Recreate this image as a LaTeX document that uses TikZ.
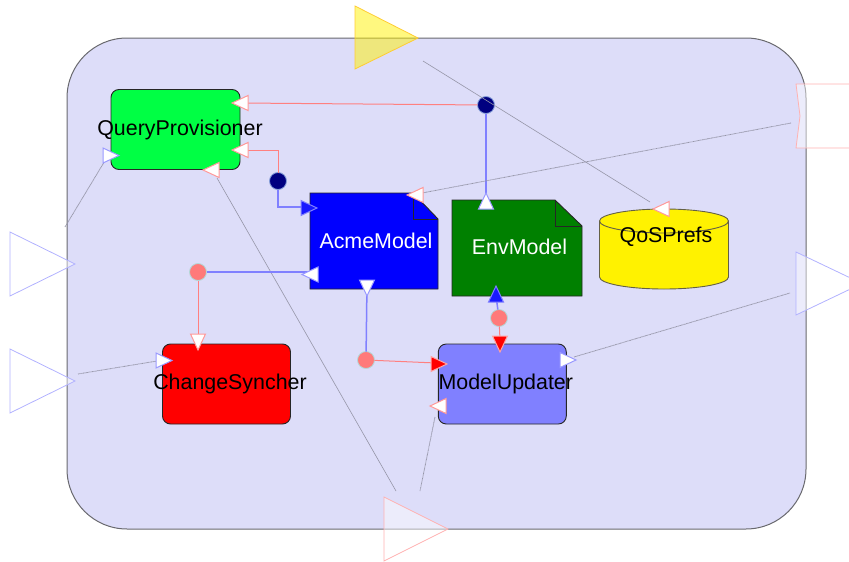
\documentclass[tikz,border=0pt]{standalone}
\usepackage{fontspec}
\setmainfont{Liberation Sans}
\definecolor{sysfill}{RGB}{221,221,249}
\definecolor{sysline}{RGB}{105,105,110}
\definecolor{qpgreen}{RGB}{0,255,68}
\definecolor{envgreen}{RGB}{0,128,0}
\definecolor{mupurple}{RGB}{128,128,255}
\definecolor{pinkln}{RGB}{255,128,128}
\definecolor{blueln}{RGB}{128,128,255}
\definecolor{greyln}{RGB}{150,150,168}
\definecolor{navy}{RGB}{0,0,128}
\definecolor{dotpink}{RGB}{255,122,122}
% small port markers: tip at the given point, rotated to the given direction
\newcommand{\portmark}[3]{\path[#3,shift={#1},rotate=#2] (0,0) -- (-16,-7.5) -- (-16,7.5) -- cycle;}
\begin{document}
\begin{tikzpicture}[x=1pt,y=-1pt,
  every node/.style={font=\fontsize{21.4}{24}\selectfont, inner sep=0pt, outer sep=0pt},
  comp/.style={draw=black!85, line width=0.9pt, rounded corners=8pt, minimum width=#1, minimum height=80},
  doc/.style={draw=black!85, line width=0.9pt},
  pinkconn/.style={draw=pinkln, line width=1pt},
  blueconn/.style={draw=blueln, line width=1.5pt},
  greyconn/.style={draw=greyln, line width=0.6pt},
  dotconn/.style={draw=greyln, line width=0.8pt, dash pattern=on 0.8pt off 0.5pt},
  navydot/.style={circle, fill=navy, draw=cyan!40!blue!50, line width=0.8pt, minimum size=17},
  pinkdot/.style={circle, fill=dotpink, draw=teal!30, line width=0.8pt, minimum size=17},
  mkpink/.style={draw=pinkln!80, fill=white, line width=1pt},
  mkblue/.style={draw=blueln!80, fill=white, line width=1pt},
  mkbluefill/.style={draw=blueln, fill=blue!90, line width=1pt},
  mkredfill/.style={draw=pinkln!70, fill=red, line width=1pt},
  portblue/.style={draw=blue!30, fill=white, fill opacity=0.45, line width=0.8pt},
  portpink/.style={draw=red!30, fill=white, fill opacity=0.45, line width=0.8pt}]
\useasboundingbox (0,0) rectangle (849,562);

% system boundary
\node[draw=sysline, fill=sysfill, line width=1pt, rounded corners=60pt,
      minimum width=739, minimum height=491] (sys) at (436.5,283.5) {};

% components
\node[comp=129, fill=qpgreen] (qp) at (175.5,129.5) {\makebox[0pt]{\hspace*{9pt}QueryProvisioner}};
\node[comp=128, fill=red] (cs) at (226.5,384) {\makebox[0pt]{\hspace*{7pt}ChangeSyncher}};
\node[comp=128, fill=mupurple] (mu) at (502.3,384) {\makebox[0pt]{\hspace*{7pt}ModelUpdater}};

% document shaped models
\path[doc, fill=blue] (310,193) -- (413,193) -- (438,219) -- (438,289) -- (310,289) -- cycle;
\draw[doc] (413,193) -- (413,219) -- (438,219);
\node[text=white, minimum width=128, minimum height=96] (acme) at (376,241) {AcmeModel};
\path[doc, fill=envgreen] (452,200) -- (555,200) -- (582,226) -- (582,296) -- (452,296) -- cycle;
\draw[doc] (555,200) -- (555,226) -- (582,226);
\node[text=white, minimum width=130, minimum height=96] (env) at (519.5,247) {EnvModel};

% preference store
\path[draw=black!70!yellow, fill=yellow, line width=0.9pt]
  (599.5,221) -- (599.5,277) arc[start angle=180, end angle=0, x radius=64.5, y radius=12]
  -- (728.5,221) arc[start angle=0, end angle=-180, x radius=64.5, y radius=12] -- cycle;
\draw[draw=black!70!yellow, line width=0.9pt] (599.5,221) arc[start angle=180, end angle=0, x radius=64.5, y radius=12];
\node (qos) at (666,237) {QoSPrefs};

% connector junctions
\node[navydot] (dA) at (486,105) {};
\node[navydot] (dB) at (278,181) {};
\node[pinkdot] (dC) at (198,272) {};
\node[pinkdot] (dD) at (366,360) {};
\node[pinkdot] (dE) at (499,318) {};

% free connector ends at the boundary ports
\coordinate (pY) at (423,61);
\coordinate (pR1) at (791,123);
\coordinate (pR2) at (790,293);
\coordinate (pL1) at (65,227);
\coordinate (pL2) at (78,374);
\coordinate (pB1) at (396,491);
\coordinate (pB2) at (420,491);

% connector ends at the components
\coordinate (qpA) at (240,103);
\coordinate (qpB) at (240,150);
\coordinate (qpC) at (217,178);
\coordinate (qpD) at (106,159);
\coordinate (acA) at (422,193);
\coordinate (acB) at (305,207);
\coordinate (acC) at (310,272);
\coordinate (acD) at (367,283);
\coordinate (envA) at (486,200);
\coordinate (envB) at (496,296);
\coordinate (qosA) at (650,202);
\coordinate (csA) at (198,340);
\coordinate (csB) at (157,361);
\coordinate (muA) at (436,363);
\coordinate (muB) at (500,340);
\coordinate (muC) at (435,417);
\coordinate (muD) at (574,357);

% connectors
\draw[pinkconn] (dA) -- (qpA);
\draw[blueconn] (dA) -- (envA);
\draw[greyconn] (pY) -- (qosA);
\draw[dotconn] (pR1) -- (acA);
\draw[pinkconn] (qpB) -| (dB);
\draw[blueconn] (dB) |- (acB);
\draw[greyconn] (qpC) -- (pB1);
\draw[dotconn] (pL1) -- (qpD);
\draw[blueconn] (dC) -- (acC);
\draw[pinkconn] (dC) -- (csA);
\draw[dotconn] (pL2) -- (csB);
\draw[blueconn] (acD) -- (dD);
\draw[pinkconn] (dD) -- (muA);
\draw[dotconn] (muC) -- (pB2);
\draw[blueconn] (envB) -- (dE);
\draw[pinkconn] (dE) -- (muB);
\draw[dotconn] (muD) -- (pR2);

% port markers on the components
\portmark{(232,103)}{180}{mkpink}
\portmark{(232,150)}{180}{mkpink}
\portmark{(203,170)}{180}{mkpink}
\portmark{(119,155.5)}{0}{mkblue}
\portmark{(407,195)}{180}{mkpink}
\portmark{(317,208)}{0}{mkbluefill}
\portmark{(302,274.5)}{180}{mkblue}
\portmark{(367,296)}{270}{mkblue}
\portmark{(486,193)}{90}{mkblue}
\portmark{(496,286)}{90}{mkbluefill}
\portmark{(653,209)}{180}{mkpink}
\portmark{(198,350)}{270}{mkpink}
\portmark{(172,360.5)}{0}{mkblue}
\portmark{(447,364)}{0}{mkredfill}
\portmark{(500,352)}{270}{mkredfill}
\portmark{(430,406)}{180}{mkpink}
\portmark{(576,360)}{0}{mkblue}

% boundary ports
\path[draw=orange!50!yellow!80, fill=yellow, fill opacity=0.5, line width=0.8pt] (355,6) -- (355,69) -- (418,38) -- cycle;
\path[portblue] (10,232) -- (10,296) -- (75,264) -- cycle;
\path[portblue] (10,349) -- (10,413) -- (75,381) -- cycle;
\path[portblue] (796,252) -- (796,315) -- (862,283.5) -- cycle;
\path[portpink] (384,497) -- (384,561) -- (448,529) -- cycle;
\path[portpink] (870,84) -- (796,84) -- (800,116) -- (796,148) -- (870,148);
\end{tikzpicture}
\end{document}
